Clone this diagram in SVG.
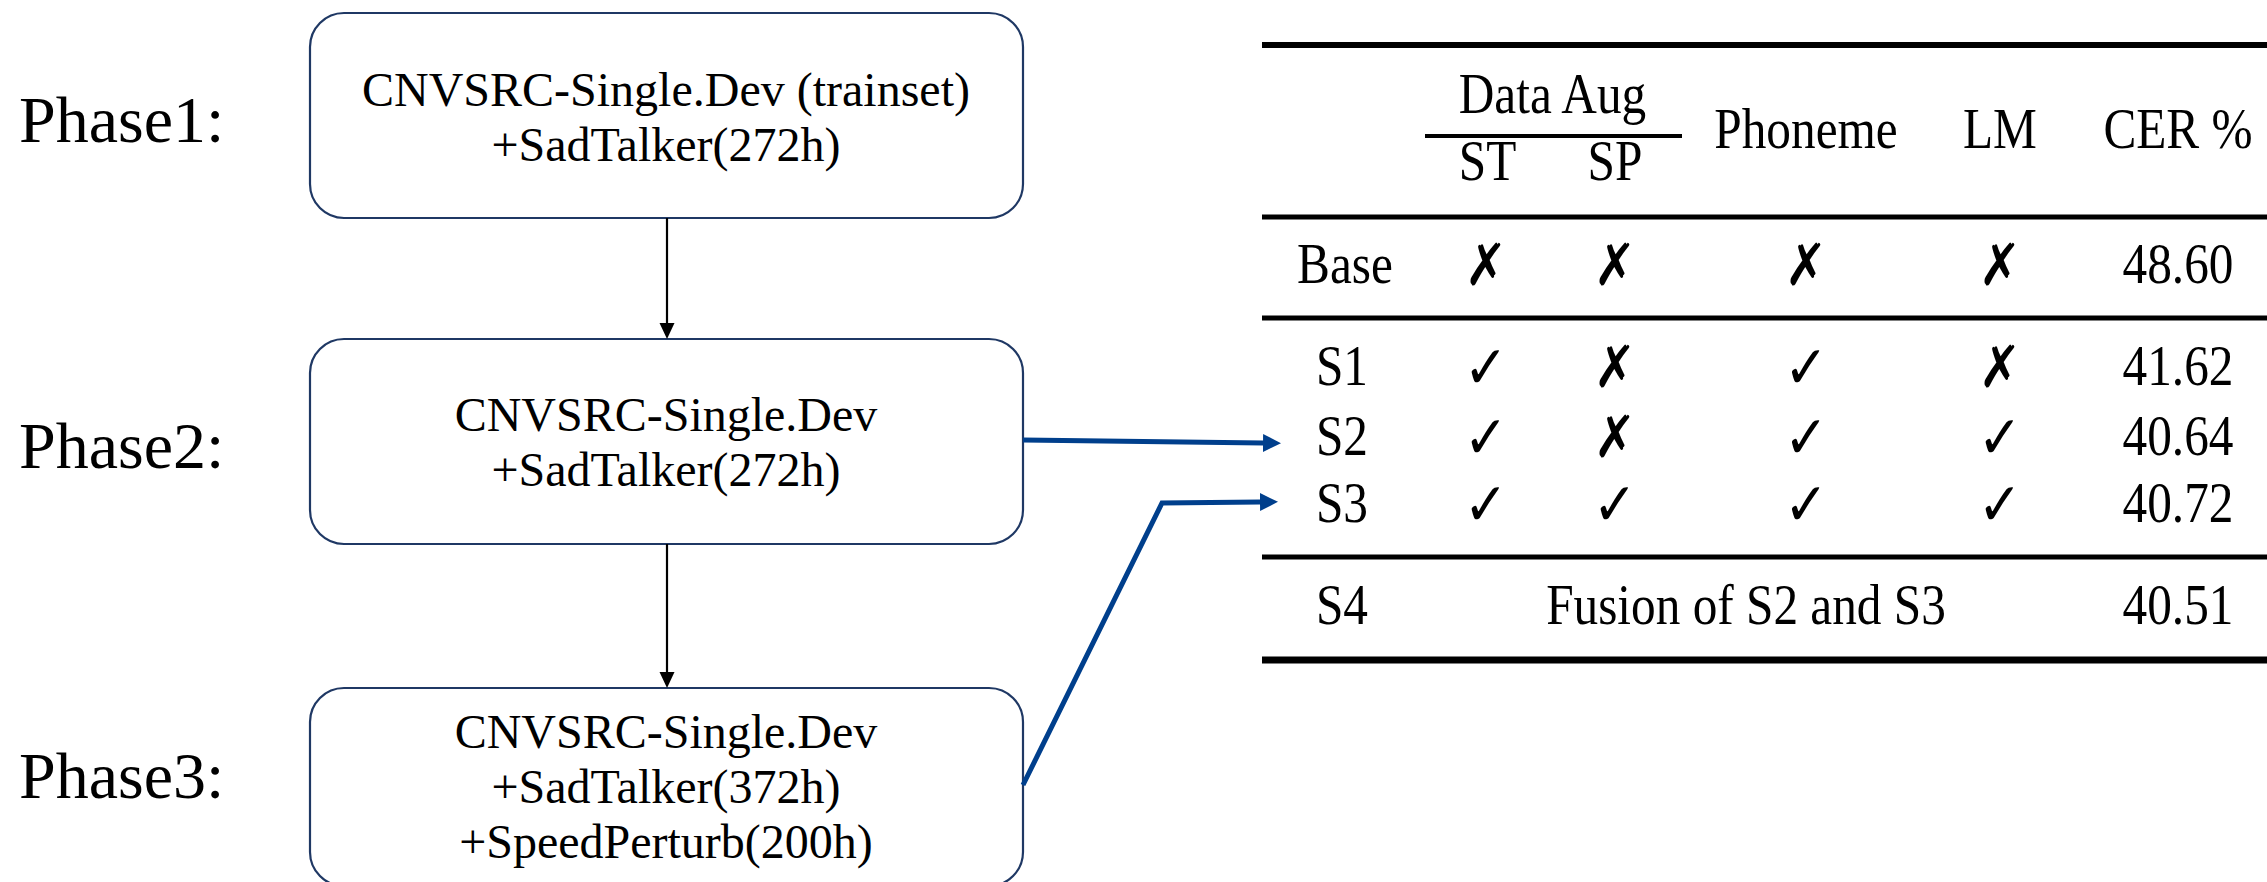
<svg xmlns="http://www.w3.org/2000/svg" width="2267" height="882" viewBox="0 0 2267 882">
  <style>
    .box { fill: #ffffff; stroke: #1f3864; stroke-width: 2.2; }
    .btxt { font-family: "Liberation Serif", "Times New Roman", serif; font-size: 48px; fill: #000; text-anchor: middle; }
    .phase { font-family: "Liberation Serif", "Times New Roman", serif; font-size: 66px; fill: #000; }
    .flow { fill: none; stroke: #000; stroke-width: 2.2; }
    .link { fill: none; stroke: #003f8c; stroke-width: 5; stroke-linejoin: miter; }
    .rule { stroke: #000; }
    .t { font-family: "Liberation Serif", "Times New Roman", serif; font-size: 56px; fill: #000; text-anchor: middle; }
    .no { font-family: "DejaVu Sans", sans-serif; font-size: 58px; fill: #000; text-anchor: middle; }
    .yes { font-family: "DejaVu Sans", sans-serif; font-size: 60px; fill: #000; text-anchor: middle; }
  </style>
  <defs>
    <marker id="headBlack" markerUnits="userSpaceOnUse" markerWidth="16" markerHeight="16" refX="0" refY="7.5" orient="auto">
      <path d="M0,0 L16,7.5 L0,15 Z" fill="#000"/>
    </marker>
    <marker id="headBlue" markerUnits="userSpaceOnUse" markerWidth="19" markerHeight="19" refX="0" refY="9" orient="auto">
      <path d="M0,0 L18,9 L0,18 Z" fill="#003f8c"/>
    </marker>
  </defs>

  <rect width="2267" height="882" fill="#ffffff"/>

  <!-- phase labels -->
  <g id="phase-labels">
    <text class="phase" x="19" y="142">Phase1:</text>
    <text class="phase" x="19" y="468">Phase2:</text>
    <text class="phase" x="19" y="798">Phase3:</text>
  </g>

  <!-- training-data nodes -->
  <g id="node-phase1">
    <rect class="box" x="310" y="13" width="713" height="205" rx="34" ry="34"/>
    <text class="btxt" x="666" y="106">CNVSRC-Single.Dev (trainset)</text>
    <text class="btxt" x="666" y="161">+SadTalker(272h)</text>
  </g>
  <g id="node-phase2">
    <rect class="box" x="310" y="339" width="713" height="205" rx="34" ry="34"/>
    <text class="btxt" x="666" y="431">CNVSRC-Single.Dev</text>
    <text class="btxt" x="666" y="486">+SadTalker(272h)</text>
  </g>
  <g id="node-phase3">
    <rect class="box" x="310" y="688" width="713" height="198" rx="34" ry="34"/>
    <text class="btxt" x="666" y="748">CNVSRC-Single.Dev</text>
    <text class="btxt" x="666" y="803">+SadTalker(372h)</text>
    <text class="btxt" x="666" y="858">+SpeedPerturb(200h)</text>
  </g>

  <!-- connectors -->
  <g id="connectors">
    <path class="flow" d="M667,218 L667,323" marker-end="url(#headBlack)"/>
    <path class="flow" d="M667,544 L667,672" marker-end="url(#headBlack)"/>
    <path class="link" d="M1023,440 L1263,443" marker-end="url(#headBlue)"/>
    <path class="link" d="M1023,785 L1162,503 L1260,502" marker-end="url(#headBlue)"/>
  </g>

  <!-- results table -->
  <g id="results-table">
    <line class="rule" x1="1262" y1="45" x2="2267" y2="45" stroke-width="6"/>
    <line class="rule" x1="1425" y1="136" x2="1682" y2="136" stroke-width="4" stroke="#222"/>
    <line class="rule" x1="1262" y1="217" x2="2267" y2="217" stroke-width="5" stroke="#3a3a3a"/>
    <line class="rule" x1="1262" y1="318" x2="2267" y2="318" stroke-width="5" stroke="#151515"/>
    <line class="rule" x1="1262" y1="557" x2="2267" y2="557" stroke-width="5"/>
    <line class="rule" x1="1262" y1="660" x2="2267" y2="660" stroke-width="7" stroke="#111"/>

    <!-- cells, set slightly condensed -->
    <g transform="translate(1262 0) scale(0.88 1)">
      <text class="t" x="330.1" y="113">Data Aug</text>
      <text class="t" x="256.3" y="180">ST</text>
      <text class="t" x="401.1" y="180">SP</text>
      <text class="t" x="618.2" y="148">Phoneme</text>
      <text class="t" x="838.6" y="148">LM</text>
      <text class="t" x="1040.9" y="148">CER %</text>

      <text class="t" x="94.3" y="283">Base</text>
      <text class="no" x="254.5" y="285">✗</text>
      <text class="no" x="401.1" y="285">✗</text>
      <text class="no" x="618.2" y="285">✗</text>
      <text class="no" x="838.6" y="285">✗</text>
      <text class="t" x="1040.9" y="283">48.60</text>

      <text class="t" x="90.9" y="385">S1</text>
      <text class="yes" x="254.5" y="388">✓</text>
      <text class="no" x="401.1" y="387">✗</text>
      <text class="yes" x="618.2" y="388">✓</text>
      <text class="no" x="838.6" y="387">✗</text>
      <text class="t" x="1040.9" y="385">41.62</text>

      <text class="t" x="90.9" y="455">S2</text>
      <text class="yes" x="254.5" y="458">✓</text>
      <text class="no" x="401.1" y="457">✗</text>
      <text class="yes" x="618.2" y="458">✓</text>
      <text class="yes" x="838.6" y="458">✓</text>
      <text class="t" x="1040.9" y="455">40.64</text>

      <text class="t" x="90.9" y="522">S3</text>
      <text class="yes" x="254.5" y="525">✓</text>
      <text class="yes" x="401.1" y="525">✓</text>
      <text class="yes" x="618.2" y="525">✓</text>
      <text class="yes" x="838.6" y="525">✓</text>
      <text class="t" x="1040.9" y="522">40.72</text>

      <text class="t" x="90.9" y="624">S4</text>
      <text class="t" x="550" y="624">Fusion of S2 and S3</text>
      <text class="t" x="1040.9" y="624">40.51</text>
    </g>
  </g>
</svg>
